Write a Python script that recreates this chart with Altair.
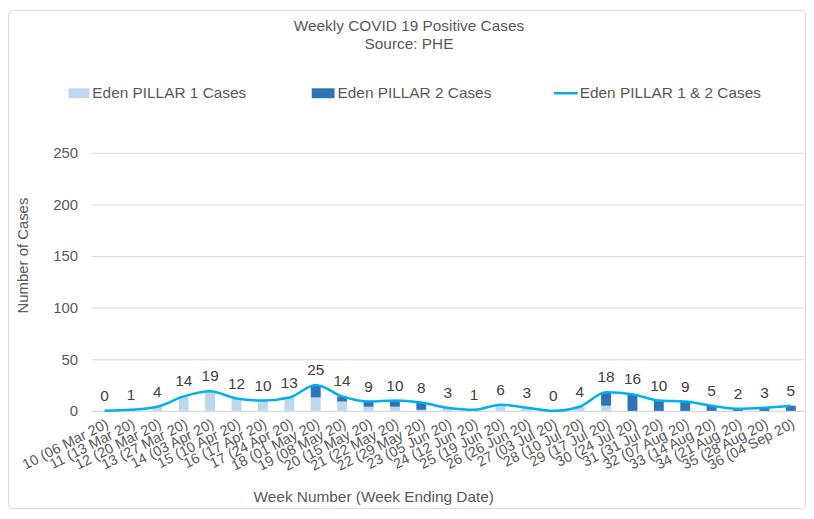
import altair as alt
import pandas as pd

weeks = ["10 (06 Mar 20)", "11 (13 Mar 20)", "12 (20 Mar 20)", "13 (27 Mar 20)", "14 (03 Apr 20)",
         "15 (10 Apr 20)", "16 (17 Apr 20)", "17 (24 Apr 20)", "18 (01 May 20)", "19 (08 May 20)",
         "20 (15 May 20)", "21 (22 May 20)", "22 (29 May 20)", "23 (05 Jun 20)", "24 (12 Jun 20)",
         "25 (19 Jun 20)", "26 (26 Jun 20)", "27 (03 Jul 20)", "28 (10 Jul 20)", "29 (17 Jul 20)",
         "30 (24 Jul 20)", "31 (31 Jul 20)", "32 (07 Aug 20)", "33 (14 Aug 20)", "34 (21 Aug 20)",
         "35 (28 Aug 20)", "36 (04 Sep 20)"]
pillar1 = [0, 1, 4, 14, 19, 12, 10, 13, 13, 9, 4, 4, 1, 3, 1, 6, 3, 0, 4, 5, 0, 0, 0, 0, 0, 0, 0]
pillar2 = [0, 0, 0, 0, 0, 0, 0, 0, 12, 5, 5, 6, 7, 0, 0, 0, 0, 0, 0, 13, 16, 10, 9, 5, 2, 3, 5]
totals = [0, 1, 4, 14, 19, 12, 10, 13, 25, 14, 9, 10, 8, 3, 1, 6, 3, 0, 4, 18, 16, 10, 9, 5, 2, 3, 5]

S1 = "Eden PILLAR 1 Cases"
S2 = "Eden PILLAR 2 Cases"
S3 = "Eden PILLAR 1 & 2 Cases"
C1, C2, C3 = "#BDD7EE", "#2E75B6", "#00B0F0"
FONT = "Liberation Sans"
GREY = "#595959"

bars = pd.DataFrame(
    [{"week": w, "series": S1, "order": 1, "value": v} for w, v in zip(weeks, pillar1)]
    + [{"week": w, "series": S2, "order": 2, "value": v} for w, v in zip(weeks, pillar2)]
)
tot = pd.DataFrame({"week": weeks, "total": totals})

xenc = alt.X("week:N", sort=weeks,
             scale=alt.Scale(paddingInner=0, paddingOuter=0),
             axis=alt.Axis(title="Week Number (Week Ending Date)", labelAngle=-27,
                           labelFont=FONT, labelFontSize=14.5, labelColor=GREY,
                           labelPadding=6, ticks=False, domainColor="#D9D9D9",
                           titleFont=FONT, titleFontSize=15.5, titleColor=GREY,
                           titleFontWeight="normal", titleX=284, titleY=86,
                           titleBaseline="middle", labelOverlap=False))

bar_layer = alt.Chart(bars).mark_bar(size=10).encode(
    x=xenc,
    y=alt.Y("value:Q", stack="zero",
            scale=alt.Scale(domain=[0, 250], nice=False),
            axis=alt.Axis(title="Number of Cases", values=[0, 50, 100, 150, 200, 250],
                          labelFont=FONT, labelFontSize=15, labelColor=GREY,
                          ticks=False, tickSize=0, labelPadding=14, domain=False,
                          gridColor="#D9D9D9", titleFont=FONT, titleFontSize=15,
                          titleColor=GREY, titleFontWeight="normal",
                          titleX=-69, titleY=103, titleBaseline="middle")),
    color=alt.Color("series:N", scale=alt.Scale(domain=[S1, S2], range=[C1, C2]), legend=None),
    order=alt.Order("order:Q"),
)

line_layer = alt.Chart(tot).mark_line(color=C3, strokeWidth=2.5, interpolate="monotone").encode(
    x=alt.X("week:N", sort=weeks),
    y=alt.Y("total:Q"),
)

label_layer = alt.Chart(tot).mark_text(font=FONT, fontSize=15.5, color="#404040", dy=-15,
                                       baseline="middle").encode(
    x=alt.X("week:N", sort=weeks),
    y=alt.Y("total:Q"),
    text=alt.Text("total:Q"),
)

one = pd.DataFrame({"k": [0]})
leg_font = dict(font=FONT, fontSize=15.5, color=GREY, align="left", baseline="middle")
decor_layers = [
    alt.Chart(one).mark_rect(fill=None, stroke="#D9D9D9", strokeWidth=1, cornerRadius=4).encode(
        x=alt.value(-83.5), x2=alt.value(719.5), y=alt.value(-143.5), y2=alt.value(358.5)),
    alt.Chart(one).mark_rect(color=C1).encode(x=alt.value(-23), x2=alt.value(-2),
                                               y=alt.value(-65), y2=alt.value(-55)),
    alt.Chart(one).mark_text(**leg_font).encode(x=alt.value(1), y=alt.value(-60), text=alt.value(S1)),
    alt.Chart(one).mark_rect(color=C2).encode(x=alt.value(222), x2=alt.value(245),
                                               y=alt.value(-65), y2=alt.value(-55)),
    alt.Chart(one).mark_text(**leg_font).encode(x=alt.value(248), y=alt.value(-60), text=alt.value(S2)),
    alt.Chart(one).mark_rule(color=C3, strokeWidth=2.5).encode(x=alt.value(466), x2=alt.value(490),
                                                                 y=alt.value(-60)),
    alt.Chart(one).mark_text(**leg_font).encode(x=alt.value(492), y=alt.value(-60), text=alt.value(S3)),
]

chart = alt.layer(*decor_layers[:1], bar_layer, line_layer, label_layer, *decor_layers[1:]).properties(
    width=718, height=260,
    title=alt.TitleParams(text=["Weekly COVID 19 Positive Cases", "Source: PHE"],
                          font=FONT, fontSize=15.5, fontWeight="normal", color=GREY,
                          anchor="middle", frame="group", dx=-39, dy=3, offset=-40, lineHeight=18),
    autosize=alt.AutoSizeParams(type="none"),
    padding={"left": 84, "top": 144, "right": 2, "bottom": 99},
).configure_view(stroke=None)

chart.save("out.html", embed_options={"renderer": "svg", "actions": False})
